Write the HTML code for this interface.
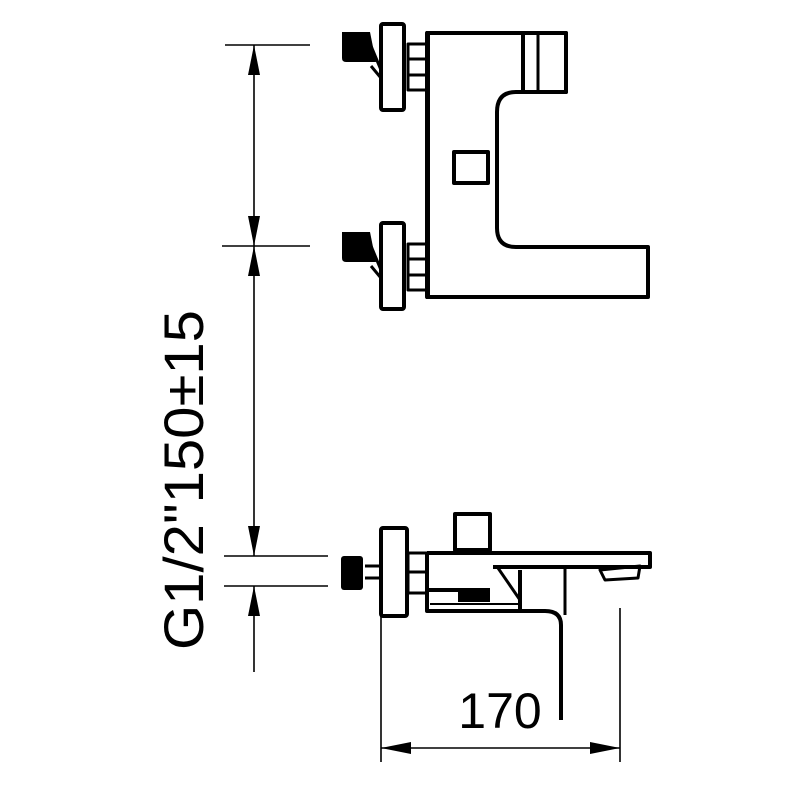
<!DOCTYPE html>
<html><head><meta charset="utf-8"><style>
html,body{margin:0;padding:0;background:#fff}
svg{display:block}
</style></head><body>
<svg width="800" height="800" viewBox="0 0 800 800" xmlns="http://www.w3.org/2000/svg">
<defs>
<marker id="a" viewBox="0 0 10 10" refX="10" refY="5" markerWidth="30" markerHeight="12" markerUnits="userSpaceOnUse" orient="auto-start-reverse" preserveAspectRatio="none">
<path d="M0,0 L10,5 L0,10 Z" fill="#000"/></marker>
</defs>
<g stroke="#000" stroke-width="1.6" fill="none">
<line x1="225" y1="45" x2="310" y2="45"/>
<line x1="222" y1="246" x2="310" y2="246"/>
<line x1="224" y1="556" x2="328" y2="556"/>
<line x1="224" y1="586" x2="328" y2="586"/>
<line x1="254" y1="45" x2="254" y2="246" marker-start="url(#a)" marker-end="url(#a)"/>
<line x1="254" y1="246" x2="254" y2="556" marker-start="url(#a)" marker-end="url(#a)"/>
<line x1="254" y1="672" x2="254" y2="586" marker-end="url(#a)"/>
<line x1="381" y1="612" x2="381" y2="762"/>
<line x1="620" y1="608" x2="620" y2="762"/>
<line x1="381" y1="748" x2="620" y2="748" marker-start="url(#a)" marker-end="url(#a)" stroke-width="1.4"/>
</g>
<text x="0" y="0" transform="translate(203,480) rotate(-90)" text-anchor="middle" font-family="Liberation Sans, sans-serif" font-size="56" fill="#000" textLength="340" lengthAdjust="spacingAndGlyphs">G1/2"150±15</text>
<text x="500" y="728" text-anchor="middle" font-family="Liberation Sans, sans-serif" font-size="50" fill="#000">170</text>

<g stroke="#000" stroke-width="4" fill="none" stroke-linejoin="round">
<path d="M427,33 H566 V92 H516 Q497,92 497,112 V228 Q497,247 516,247 H648 V297 H427 Z"/>
<rect x="523" y="33" width="43" height="59"/>
<line x1="538" y1="35" x2="538" y2="90" stroke-width="3"/>
<rect x="454" y="152" width="34" height="31"/>
<rect x="381" y="24" width="23" height="86" rx="2"/>
<rect x="381" y="223" width="23" height="86" rx="2"/>
<rect x="408" y="44" width="19" height="46" stroke-width="3"/>
<line x1="408" y1="59" x2="427" y2="59" stroke-width="3"/>
<line x1="408" y1="75" x2="427" y2="75" stroke-width="3"/>
<rect x="408" y="244" width="19" height="46" stroke-width="3"/>
<line x1="408" y1="259" x2="427" y2="259" stroke-width="3"/>
<line x1="408" y1="275" x2="427" y2="275" stroke-width="3"/>
<path d="M371,46 L381,70 M371,66 L381,78" stroke-width="3"/>
<path d="M371,246 L381,270 M371,266 L381,278" stroke-width="3"/>
<rect x="455" y="514" width="35" height="36"/>
<rect x="381" y="528" width="26" height="88" rx="2"/>
<rect x="408" y="553" width="19" height="40" stroke-width="3"/>
<line x1="408" y1="572" x2="427" y2="572" stroke-width="3"/>
<path d="M427,553 H650 V567 H493"/>
<path d="M427,553 V611 H545 Q561,611 561,625 V720"/>
<line x1="427" y1="590" x2="490" y2="590"/>
<line x1="430" y1="604" x2="520" y2="604" stroke-width="2"/>
<line x1="520" y1="570" x2="520" y2="611"/>
<line x1="565" y1="568" x2="565" y2="615" stroke-width="3"/>
<line x1="498" y1="568" x2="520" y2="600" stroke-width="3"/>
<path d="M600,570 L640,566 L638,578 L605,580 Z" stroke-width="3"/>
<line x1="365" y1="566" x2="381" y2="566" stroke-width="3"/>
<line x1="365" y1="578" x2="381" y2="578" stroke-width="3"/>
</g>
<g fill="#000">
<path d="M342,32 H370 L376,62 H346 Q342,62 342,58 Z"/>
<path d="M342,232 H370 L376,262 H346 Q342,262 342,258 Z"/>
<rect x="341" y="556" width="22" height="34" rx="3"/>
<rect x="458" y="588" width="32" height="14"/>
<rect x="426" y="31" width="4" height="268"/>
</g>
</svg>
</body></html>
